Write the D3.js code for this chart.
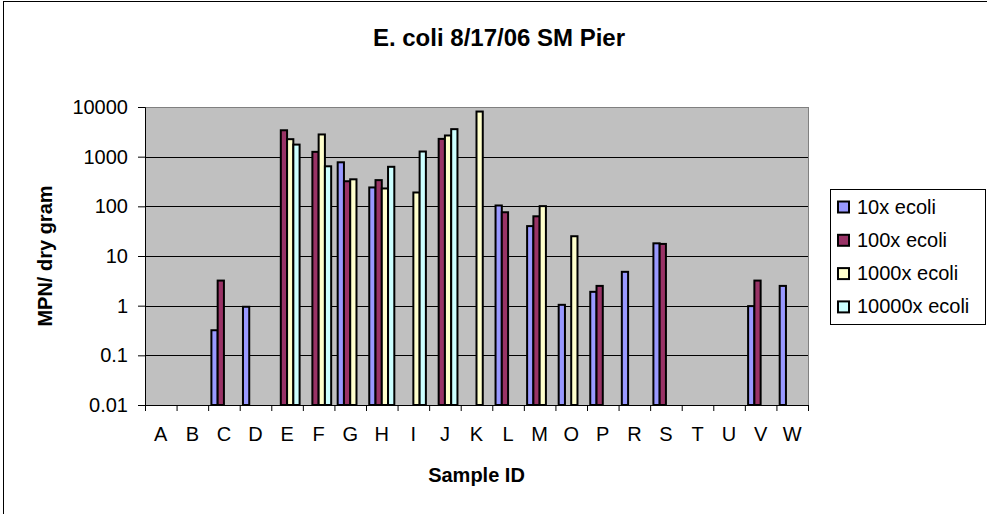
<!DOCTYPE html>
<html>
<head>
<meta charset="utf-8">
<script src="https://cdn.jsdelivr.net/npm/d3@7"></script>
<style>
  body { margin: 0; background: #fff; }
  svg { display: block; font-family: "Liberation Sans", Arial, sans-serif; }
</style>
</head>
<body>
<svg id="chart"></svg>
<script>
const width = 987;
const height = 514;

// sample ids along the x axis
const samples = ["A", "B", "C", "D", "E", "F", "G", "H", "I", "J", "K", "L", "M", "O", "P", "R", "S", "T", "U", "V", "W"];
const seriesNames = ["10x ecoli", "100x ecoli", "1000x ecoli", "10000x ecoli"];
const seriesColors = ["#9999FF", "#993366", "#FFFFCC", "#CCFFFF"];

// MPN per dry gram, null = no value
const ecoli10x    = [null, null, 0.32, 0.95, null, null, 770, 240, null, null, null, 104, 40, 1.04, 1.9, 4.8, 18, null, null, 0.98, 2.5];
const ecoli100x   = [null, null, 3.2, null, 3400, 1250, 320, 337, null, 2280, null, 76, 63, null, 2.5, null, 17.5, null, null, 3.2, null];
const ecoli1000x  = [null, null, null, null, 2250, 2800, 350, 229, 190, 2670, 8100, null, 101, 25, null, null, null, null, null, null, null];
const ecoli10000x = [null, null, null, null, 1750, 640, null, 625, 1270, 3580, null, null, null, null, null, null, null, null, null, null, null];
const yTicks = [0.01, 0.1, 1, 10, 100, 1000, 10000];

const seriesValues = [ecoli10x, ecoli100x, ecoli1000x, ecoli10000x];

const plot = { left: 145, right: 808, top: 107, bottom: 405 };

const svg = d3.select("#chart").attr("width", width).attr("height", height);

// outer chart border
svg.append("rect")
  .attr("x", 3.5).attr("y", 1.5)
  .attr("width", width + 10).attr("height", height + 10)
  .attr("fill", "#fff").attr("stroke", "#000");

const x = d3.scaleBand().domain(samples).range([plot.left, plot.right]);
const x1 = d3.scaleBand().domain(seriesNames).range([0, x.bandwidth()]).paddingOuter(0.52);
const y = d3.scaleLog().domain([0.01, 10000]).range([plot.bottom, plot.top]);

// plot background
svg.append("rect")
  .attr("x", plot.left).attr("y", plot.top)
  .attr("width", plot.right - plot.left).attr("height", plot.bottom - plot.top)
  .attr("fill", "#C0C0C0");

// gridlines
svg.append("g")
  .selectAll("line")
  .data(yTicks.slice(1, -1))
  .enter()
  .append("line")
  .attr("x1", plot.left).attr("x2", plot.right)
  .attr("y1", d => Math.round(y(d)) + 0.5).attr("y2", d => Math.round(y(d)) + 0.5)
  .attr("stroke", "#000").attr("stroke-width", 1);

svg.append("rect")
  .attr("x", plot.left + 0.5).attr("y", plot.top + 0.5)
  .attr("width", plot.right - plot.left).attr("height", plot.bottom - plot.top)
  .attr("fill", "none").attr("stroke", "#808080");

// bars
const bars = [];
seriesValues.forEach((vals, s) => {
  vals.forEach((v, i) => {
    if (v != null) bars.push({ sample: samples[i], series: seriesNames[s], color: seriesColors[s], value: v });
  });
});

svg.append("g")
  .selectAll("rect")
  .data(bars)
  .enter()
  .append("rect")
  .attr("x", d => x(d.sample) + x1(d.series))
  .attr("y", d => y(d.value))
  .attr("width", x1.bandwidth())
  .attr("height", d => y(0.01) - y(d.value))
  .attr("fill", d => d.color)
  .attr("stroke", "#000")
  .attr("stroke-width", 2);

// axes
const yAxis = d3.axisLeft(y)
  .tickValues(yTicks)
  .tickFormat(d => String(d))
  .tickSize(7)
  .tickPadding(10);

const yG = svg.append("g")
  .attr("transform", `translate(${plot.left}, 0)`)
  .call(yAxis);
yG.select(".domain").attr("stroke", "#000");
yG.selectAll("text").attr("font-size", 20).attr("fill", "#000").attr("font-family", "Liberation Sans, Arial, sans-serif");

const xAxis = d3.axisBottom(x).tickSize(0).tickPadding(22);
const xG = svg.append("g")
  .attr("transform", `translate(0, ${plot.bottom})`)
  .call(xAxis);
xG.select(".domain").attr("stroke", "#000");
xG.selectAll("text").attr("font-size", 20).attr("fill", "#000").attr("font-family", "Liberation Sans, Arial, sans-serif");

// category boundary ticks
xG.append("g")
  .selectAll("line")
  .data(d3.range(samples.length + 1))
  .enter()
  .append("line")
  .attr("x1", i => plot.left + i * x.bandwidth() + 0.5)
  .attr("x2", i => plot.left + i * x.bandwidth() + 0.5)
  .attr("y1", 0).attr("y2", 6)
  .attr("stroke", "#000");

// titles
svg.append("text")
  .attr("x", 499).attr("y", 46)
  .attr("text-anchor", "middle")
  .attr("font-size", 24).attr("font-weight", "bold")
  .text("E. coli 8/17/06 SM Pier");

svg.append("text")
  .attr("x", (plot.left + plot.right) / 2).attr("y", 482)
  .attr("text-anchor", "middle")
  .attr("font-size", 20).attr("font-weight", "bold")
  .text("Sample ID");

svg.append("text")
  .attr("transform", `translate(52, ${(plot.top + plot.bottom) / 2}) rotate(-90)`)
  .attr("text-anchor", "middle")
  .attr("font-size", 20).attr("font-weight", "bold")
  .text("MPN/ dry gram");

// legend
const legend = svg.append("g").attr("transform", "translate(830, 189)");
legend.append("rect")
  .attr("x", 0.5).attr("y", 0.5)
  .attr("width", 155).attr("height", 135)
  .attr("fill", "#fff").attr("stroke", "#000");

const items = legend.selectAll(".item")
  .data(seriesNames)
  .enter()
  .append("g")
  .attr("class", "item")
  .attr("transform", (d, i) => `translate(0, ${17.5 + i * 33.3})`);

items.append("rect")
  .attr("x", 8).attr("y", -5)
  .attr("width", 11).attr("height", 11)
  .attr("fill", (d, i) => seriesColors[i])
  .attr("stroke", "#000").attr("stroke-width", 2);

items.append("text")
  .attr("x", 27).attr("y", 0)
  .attr("dy", "0.35em")
  .attr("font-size", 20)
  .text(d => d);
</script>
</body>
</html>
